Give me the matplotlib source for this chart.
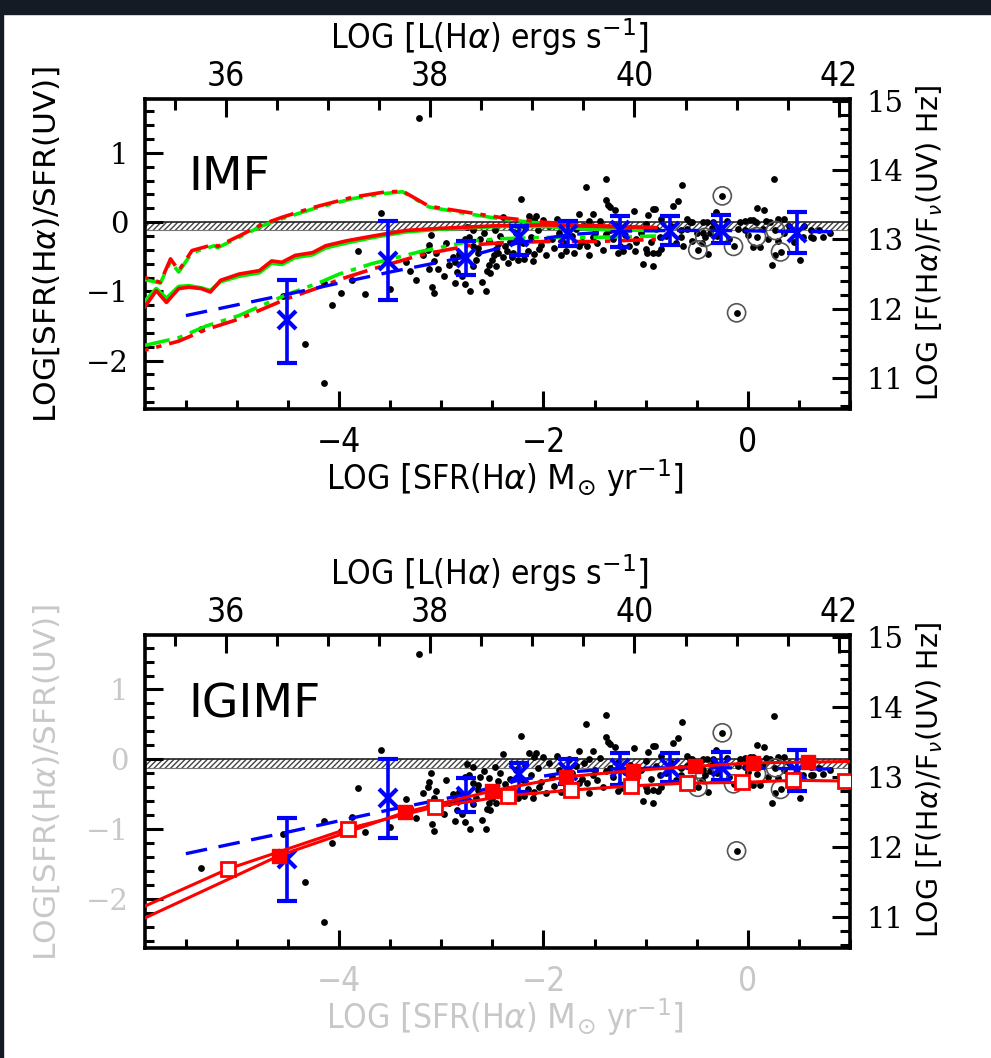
import matplotlib
matplotlib.use('Agg')
import matplotlib.pyplot as plt
from matplotlib.ticker import MultipleLocator, FixedLocator
from matplotlib.patches import Rectangle

# ─── values ───
# galaxies (black dots), log SFR(Ha) vs log SFR(Ha)/SFR(UV)
dot_x = [-5.35, -4.55, -4.33, -4.15, -4.15, -4.07, -3.98, -3.87, -3.82, -3.75,
         -3.59, -3.50, -3.22, -3.35, -3.31, -3.25, -3.12, -3.09, -3.07, -3.10,
         -3.12, -3.13, -3.07, -3.03, -2.97, -2.87, -2.87, -2.77, -2.72, -2.56,
         -2.60, -2.55, -2.52, -2.89, -2.83, -2.77, -2.73, -2.69, -2.64, -2.69,
         -2.75, -2.62, -2.53, -2.45, -2.47, -2.69, -2.80, -2.64, -2.48, -2.46,
         -2.40, -2.35, -2.46, -2.53, -2.22, -2.19, -2.14, -2.09, -2.07, -2.04,
         -2.09, -2.00, -1.87, -1.83, -1.78, -1.65, -1.65, -1.58, -1.57, -1.55,
         -1.55, -1.52, -1.52, -1.39, -1.39, -1.37, -1.35, -1.30, -1.39, -1.27,
         -1.22, -1.16, -1.11, -1.09, -1.09, -1.03, -1.00, -0.99, -0.98, -0.93,
         -0.93, -0.93, -0.91, -0.88, -0.86, -0.85, -0.73, -0.68, -0.64, -0.65,
         -0.63, -0.60, -0.57, -0.55, -0.55, -0.44, -0.44, -0.40, -0.39, -0.37,
         -0.34, -0.31, -0.08, -0.03, -0.03, 0.02, 0.05, 0.08, 0.09, 0.12,
         0.16, 0.18, 0.22, 0.24, 0.26, 0.27, 0.30, 0.30, 0.35, 0.51,
         0.54, 0.62, 0.64, 0.62, 0.74, -2.50, -2.45, -2.40, -2.38, -2.33,
         -2.30, -2.27, -2.25, -2.20, -2.18, -2.15, -2.12, -2.10, -2.05, -2.02,
         -1.98, -1.95, -1.92, -1.90, -1.85, -1.80, -1.75, -1.72, -1.70, -1.68,
         -1.62, -1.60, -1.50, -1.48, -1.45, -1.42, -1.35, -1.32, -1.28, -1.25,
         -1.20, -1.15, -1.10, -1.05, -1.00, -0.95, -0.90, -0.85, -0.80, -0.75,
         -0.70, -0.65, -0.60, -0.50, -0.45, -0.35, -0.30, -0.20, -0.18, -0.10,
         0.00, 0.05, 0.15, 0.20, 0.35, 0.40, 0.45, 0.55, 0.70, 0.80,
         -3.18, -3.05, -2.95, -2.92, -2.85, -2.66, -2.58, -2.43, -2.36, -2.31]
dot_y = [-1.55, -1.07, -1.76, -2.33, -0.88, -1.19, -1.03, -0.83, -0.41, -1.04,
         0.13, -0.97, 1.51, -0.57, -0.70, -0.84, -0.67, -0.93, -1.02, -0.19,
         -0.33, -0.40, -0.56, -0.68, -0.78, -0.58, -0.88, -0.89, -1.00, -1.00,
         -0.87, -0.71, -0.73, -0.50, -0.46, -0.25, -0.22, -0.34, -0.37, -0.11,
         -0.07, -0.25, -0.27, -0.31, -0.11, -0.64, -0.78, -0.44, -0.48, -0.39,
         0.08, -0.59, -0.63, -0.62, 0.33, -0.53, 0.09, -0.46, 0.09, -0.39,
         0.03, 0.03, 0.05, -0.47, -0.41, 0.12, -0.34, 0.51, -0.34, -0.48,
         0.01, -0.22, 0.12, 0.63, 0.32, 0.25, 0.22, 0.17, -0.17, -0.45,
         -0.41, -0.34, 0.16, -0.24, -0.29, -0.60, -0.39, -0.45, 0.10, -0.63,
         0.19, -0.44, 0.19, -0.45, -0.22, -0.39, 0.23, 0.31, 0.53, -0.22,
         -0.34, -0.10, 0.00, -0.27, 0.00, 0.00, -0.15, 0.00, -0.46, -0.16,
         0.00, 0.14, 0.00, 0.02, -0.11, 0.03, -0.36, 0.00, 0.21, -0.36,
         0.18, 0.02, 0.00, -0.62, 0.62, -0.48, -0.27, 0.04, 0.04, -0.55,
         -0.22, -0.22, -0.23, -0.11, -0.21, -0.55, -0.45, -0.50, -0.35, -0.28,
         -0.44, -0.15, -0.55, -0.30, -0.07, -0.42, -0.22, -0.56, -0.12, -0.33,
         -0.48, -0.05, -0.25, -0.38, -0.15, -0.30, 0.00, -0.20, -0.45, -0.10,
         -0.28, -0.05, -0.15, -0.30, 0.02, -0.40, -0.12, -0.25, -0.05, -0.35,
         -0.18, -0.08, -0.42, -0.15, -0.02, -0.28, -0.10, 0.05, -0.20, -0.05,
         -0.30, -0.12, 0.05, -0.15, -0.30, -0.08, -0.20, 0.02, -0.25, -0.10,
         -0.18, 0.03, -0.10, -0.25, -0.15, -0.05, -0.28, -0.05, -0.12, -0.15,
         -0.48, -0.45, -0.30, -0.62, -0.72, -0.55, -0.16, -0.20, -0.42, -0.50]

# galaxies drawn with a ring round the dot
ring_x = [-0.25, -0.11, -0.49, -0.14, 0.085, 0.32, 0.27, -0.42]
ring_y = [0.38, -1.31, -0.40, -0.35, -0.21, -0.43, -0.12, -0.22]

# binned medians (blue crosses) with error bar ends
bin_x = [-4.51, -3.52, -2.76, -2.24, -1.76, -1.25, -0.76, -0.26, 0.48]
bin_y = [-1.42, -0.56, -0.52, -0.21, -0.17, -0.12, -0.13, -0.11, -0.16]
bin_hi = [-0.84, 0.01, -0.27, -0.05, 0.01, 0.09, 0.09, 0.10, 0.14]
bin_lo = [-2.03, -1.13, -0.76, -0.47, -0.35, -0.36, -0.33, -0.30, -0.45]

# blue dashed trend
trend_x = [-5.5, -4.5, -3.5, -2.75, -2.25, -1.75, -1.25, -0.75, -0.25, 0.25, 0.9]
trend_y = [-1.35, -1.04, -0.72, -0.50, -0.30, -0.18, -0.13, -0.12, -0.12, -0.13, -0.14]

# IMF models (red and green)
imf_up_x = [-5.90, -5.75, -5.65, -5.57, -5.44, -5.22, -5.19, -4.98, -4.75, -4.56,
            -4.26, -3.87, -3.58, -3.38, -3.12, -2.82, -2.43, -2.00, -1.50, -0.90]
imf_up_red = [-0.80, -0.87, -0.53, -0.70, -0.41, -0.32, -0.35, -0.20, -0.03, 0.07,
              0.21, 0.36, 0.43, 0.45, 0.23, 0.16, 0.07, 0.00, -0.05, -0.08]
imf_up_green = [-0.83, -0.88, -0.57, -0.72, -0.44, -0.34, -0.37, -0.22, -0.05, 0.05,
                0.19, 0.34, 0.41, 0.44, 0.22, 0.14, 0.05, -0.02, -0.07, -0.10]

imf_mid_x = [-5.90, -5.79, -5.69, -5.57, -5.47, -5.35, -5.26, -5.16, -4.98, -4.78,
             -4.66, -4.56, -4.43, -4.26, -4.13, -3.93, -3.67, -3.35, -3.02, -2.43,
             -2.00, -1.50, -0.90]
imf_mid_red = [-1.22, -0.99, -1.16, -0.96, -0.94, -0.96, -1.01, -0.84, -0.75, -0.70,
               -0.56, -0.58, -0.48, -0.44, -0.34, -0.27, -0.20, -0.12, -0.09, -0.05,
               -0.04, -0.06, -0.08]
imf_mid_green = [-1.14, -0.96, -1.10, -0.93, -0.92, -0.95, -0.99, -0.86, -0.78, -0.73,
                 -0.59, -0.61, -0.51, -0.47, -0.37, -0.30, -0.22, -0.14, -0.10, -0.06,
                 -0.06, -0.10, -0.12]

imf_lo_x = [-5.90, -5.57, -5.30, -4.98, -4.66, -4.50, -4.17, -4.00, -3.68, -3.19,
            -2.70, -2.43, -2.00, -1.50, -0.90]
imf_lo_red = [-1.85, -1.72, -1.55, -1.40, -1.20, -1.10, -0.93, -0.83, -0.68, -0.47,
              -0.33, -0.30, -0.28, -0.28, -0.25]
imf_lo_green = [-1.78, -1.67, -1.50, -1.35, -1.14, -1.04, -0.86, -0.75, -0.60, -0.42,
                -0.27, -0.24, -0.22, -0.22, -0.20]

# IGIMF models (red lines with filled / open squares)
ig_fill_x = [-5.90, -4.59, -3.36, -2.50, -1.78, -1.12, -0.52, 0.05, 0.59, 1.00]
ig_fill_y = [-2.27, -1.38, -0.76, -0.45, -0.25, -0.16, -0.10, -0.05, -0.04, -0.03]
ig_open_x = [-5.90, -5.09, -3.91, -3.06, -2.35, -1.73, -1.14, -0.60, -0.06, 0.44, 0.95]
ig_open_y = [-2.10, -1.57, -0.99, -0.68, -0.52, -0.44, -0.38, -0.34, -0.33, -0.30, -0.31]

# axis ticks
sfr_ticks = [-4, -2, 0]
lum_ticks = [36, 38, 40, 42]
ratio_ticks = [-2, -1, 0, 1]
flux_ticks = [11, 12, 13, 14, 15]

SFR_TO_L = 41.11     # log L(Ha) = log SFR + 41.11
RATIO_TO_F = 13.25   # log F(Ha)/Fnu(UV) = log ratio + 13.25

FADED = '#c8c8c8'
BLUE = '#0000ff'
RED = '#ff0000'
GREEN = '#00ee00'

plt.rcParams['hatch.linewidth'] = 1.0
plt.rcParams['mathtext.fontset'] = 'dejavusans'

W, H = 991, 1058
fig = plt.figure(figsize=(W / 100, H / 100), dpi=100, facecolor='white')

# dark slide border
fig.patches.append(Rectangle((0, 1 - 14 / H), 1, 14 / H, transform=fig.transFigure,
                             color='#151b24', zorder=0))
fig.patches.append(Rectangle((0, 0), 3 / W, 1, transform=fig.transFigure,
                             color='#151b24', zorder=0))


def fx(px):
    return px / W


def fy(py):
    return 1 - py / H


def style_labels(labels, family, size, color='black', stretch='normal'):
    for t in labels:
        t.set_family(family)
        t.set_fontsize(size)
        t.set_color(color)
        t.set_stretch(stretch)


def panel(top_px, bot_px, name, name_base, faded):
    ax = fig.add_axes([fx(145), fy(bot_px), fx(850) - fx(145), fy(top_px) - fy(bot_px)])
    ax.set_xlim(-5.9, 1.0)
    ax.set_ylim(-2.7, 1.78)

    # hatched reference band
    ax.fill_between([-5.9, 1.0], -0.12, 0.0, facecolor='white', edgecolor='#444444',
                    hatch='//////', lw=0.0, zorder=1)
    ax.plot([-5.9, 1.0], [0, 0], color='#222222', lw=1.2, zorder=1)
    ax.plot([-5.9, 1.0], [-0.12, -0.12], color='#777777', lw=0.8, zorder=1)

    ax.scatter(dot_x, dot_y, s=24, c='black', linewidths=0, zorder=3)
    ax.scatter(ring_x, ring_y, s=24, c='black', linewidths=0, zorder=3)
    ax.scatter(ring_x, ring_y, s=170, facecolors='none', edgecolors='#555555',
               linewidths=1.2, zorder=3)

    ax.text(0.061, name_base, name, transform=ax.transAxes, fontsize=34,
            family='DejaVu Sans', va='baseline', ha='left')

    for side in ax.spines.values():
        side.set_linewidth(2.6)
    lab = FADED if faded else 'black'
    ax.xaxis.set_major_locator(FixedLocator(sfr_ticks))
    ax.xaxis.set_minor_locator(MultipleLocator(0.5))
    ax.yaxis.set_major_locator(FixedLocator(ratio_ticks))
    ax.yaxis.set_minor_locator(MultipleLocator(0.2))
    ax.tick_params(which='both', direction='in', width=2.2, top=False, right=False)
    ax.tick_params(which='major', length=13)
    ax.tick_params(which='minor', length=6.5)
    ax.tick_params(axis='x', pad=12)
    ax.tick_params(axis='y', pad=12)
    style_labels(ax.get_xticklabels(), 'DejaVu Sans', 24, lab, 'condensed')
    style_labels(ax.get_yticklabels(), 'DejaVu Serif', 21, lab)

    top = ax.secondary_xaxis('top', functions=(lambda s: s + SFR_TO_L,
                                               lambda l: l - SFR_TO_L))
    top.xaxis.set_major_locator(FixedLocator(lum_ticks))
    top.xaxis.set_minor_locator(MultipleLocator(0.5))
    top.tick_params(which='both', direction='in', width=2.2, pad=4)
    top.tick_params(which='major', length=13)
    top.tick_params(which='minor', length=8)
    style_labels(top.get_xticklabels(), 'DejaVu Sans', 24, 'black', 'condensed')

    right = ax.secondary_yaxis('right', functions=(lambda r: r + RATIO_TO_F,
                                                   lambda f: f - RATIO_TO_F))
    right.yaxis.set_major_locator(FixedLocator(flux_ticks))
    right.yaxis.set_minor_locator(MultipleLocator(0.2))
    right.tick_params(which='both', direction='in', width=2.2, pad=12)
    right.tick_params(which='major', length=13)
    right.tick_params(which='minor', length=7)
    style_labels(right.get_yticklabels(), 'DejaVu Serif', 21)

    # axis titles
    fig.text(fx(490), fy(top_px - 62), r'LOG $[$L(H$\alpha$) ergs s$^{-1}$$]$',
             ha='center', va='center', fontsize=24, family='DejaVu Sans',
             stretch='condensed')
    fig.text(fx(505), fy(bot_px + 69),
             r'LOG $[$SFR(H$\alpha$) $\mathrm{M}_{\odot}$ yr$^{-1}$$]$',
             ha='center', va='center', fontsize=24, family='DejaVu Sans',
             stretch='condensed', color=lab)
    fig.text(fx(47), fy((top_px + bot_px) / 2 - 9), r'LOG[SFR(H$\alpha$)/SFR(UV)]',
             ha='center', va='center', rotation=90, fontsize=22.5,
             family='DejaVu Sans', color=lab)
    fig.text(fx(930), fy((top_px + bot_px) / 2 - 11), r'LOG [F(H$\alpha$)/F$_\nu$(UV) Hz]',
             ha='center', va='center', rotation=90, fontsize=20.5, family='DejaVu Sans')
    return ax


def blue_data(ax):
    ax.plot(trend_x, trend_y, color=BLUE, lw=2.4, dashes=(6.5, 3.5), zorder=5)
    lower = [c - lo for c, lo in zip(bin_y, bin_lo)]
    upper = [hi - c for c, hi in zip(bin_y, bin_hi)]
    ax.errorbar(bin_x, bin_y, yerr=[lower, upper], fmt='x', color=BLUE, ms=13, mew=3,
                elinewidth=2.6, capsize=7, capthick=2.6, zorder=6)


# ─── top: IMF ───
ax1 = panel(99, 409, 'IMF', 0.705, faded=False)
dd = (7, 2.2, 1.5, 2.2)
for xs, g, r in [(imf_up_x, imf_up_green, imf_up_red),
                 (imf_lo_x, imf_lo_green, imf_lo_red)]:
    ax1.plot(xs, g, color=GREEN, lw=2.6, linestyle=(0, dd), zorder=4)
    ax1.plot(xs, r, color=RED, lw=2.6, linestyle=(6, dd), zorder=4)
ax1.plot(imf_mid_x, imf_mid_green, color=GREEN, lw=2.8, zorder=4)
ax1.plot(imf_mid_x, imf_mid_red, color=RED, lw=2.6, zorder=4)
blue_data(ax1)

# ─── bottom: IGIMF ───
ax2 = panel(635, 948, 'IGIMF', 0.735, faded=True)
blue_data(ax2)
ax2.plot(ig_fill_x, ig_fill_y, color=RED, lw=2.2, zorder=7)
ax2.plot(ig_open_x, ig_open_y, color=RED, lw=2.2, zorder=7)
ax2.plot(ig_fill_x[1:-1], ig_fill_y[1:-1], 's', color=RED, ms=10, zorder=8)
ax2.plot(ig_open_x[1:], ig_open_y[1:], 's', mfc='white', mec=RED, mew=2, ms=10,
         zorder=8, clip_on=True)

fig.savefig('out.png', dpi=100, facecolor='white')
